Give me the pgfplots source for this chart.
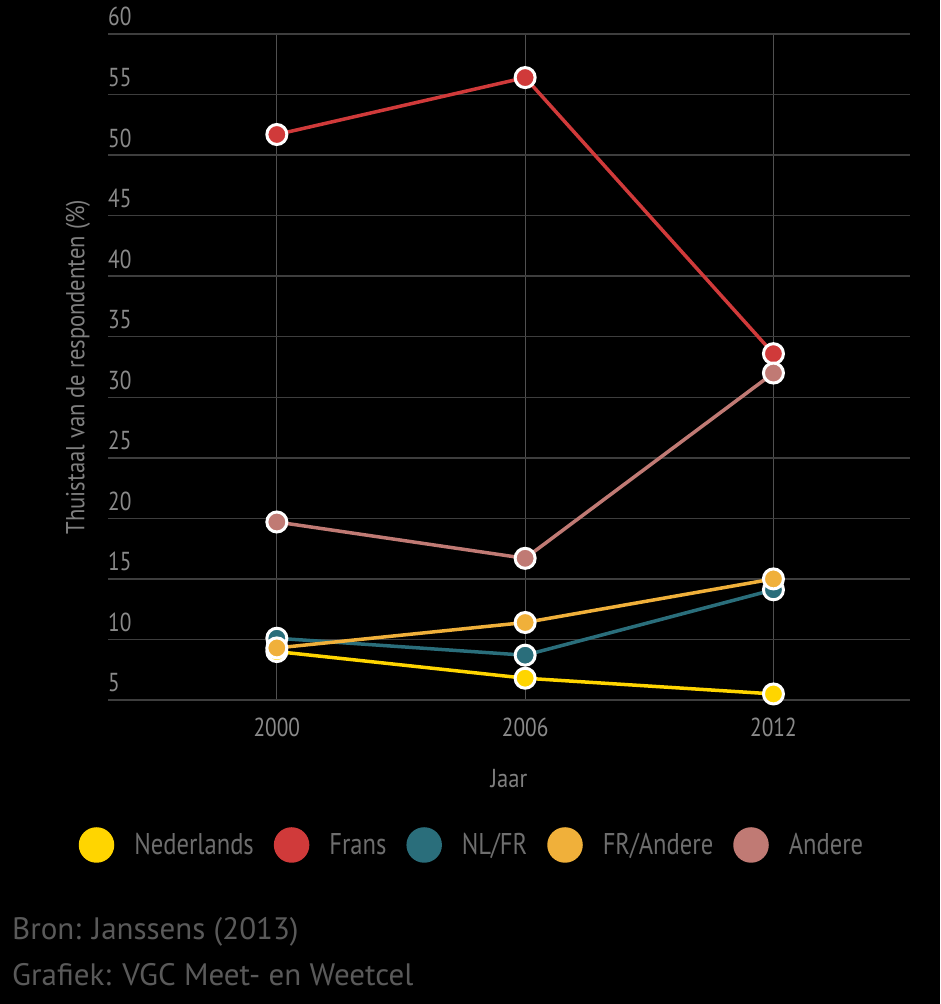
\documentclass[border=0pt]{standalone}
\usepackage{pgfplots}
\pgfplotsset{compat=1.18}
\usepackage{fontspec}
\setmainfont{PT Sans}[FakeStretch=0.82]
\newfontfamily\labfont{PT Sans}[FakeStretch=0.87]
\newfontfamily\capfont{PT Sans}
\definecolor{cNL}{HTML}{FFD500}
\definecolor{cFR}{HTML}{D03A3A}
\definecolor{cNLFR}{HTML}{2A6E7B}
\definecolor{cFRA}{HTML}{F0B03A}
\definecolor{cAN}{HTML}{C07A74}
\definecolor{gridh}{HTML}{3E3E3E}
\definecolor{gridv}{HTML}{505050}
\definecolor{tickc}{HTML}{8A8A8A}
\definecolor{labc}{HTML}{808080}
\definecolor{legc}{HTML}{6E6E6E}
\definecolor{capc}{HTML}{5A5A5A}
\begin{document}
\begin{tikzpicture}[x=1pt,y=1pt]
\fill[black] (0,0) rectangle (940,1004);
\path[use as bounding box] (0,0) rectangle (940,1004);
\begin{axis}[
  at={(108pt,304pt)}, anchor=south west,
  scale only axis, width=802pt, height=666pt,
  xmin=-0.68, xmax=2.55, ymin=5, ymax=60,
  xtick={0,1,2}, xticklabels={2000,2006,2012},
  ytick={5,10,...,60},
  /pgf/number format/assume math mode=true,
  axis line style={draw=none},
  major tick length=0pt,
  ymajorgrids, xmajorgrids,
  y grid style={color=gridh, line width=1.5pt},
  x grid style={color=gridv, line width=1pt},
  ticklabel style={font=\fontsize{26}{28}\selectfont, text=tickc},
  yticklabel style={anchor=base west, inner sep=0pt, yshift=8pt},
  xticklabel style={anchor=base, inner sep=0pt, yshift=-37pt},
  xlabel={Jaar}, ylabel={Thuistaal van de respondenten (\%)},
  label style={font=\labfont\fontsize{26}{28}\selectfont, text=labc},
  xlabel style={at={(axis description cs:0.5,-0.132)}, anchor=base, inner sep=0pt},
  ylabel style={at={(axis description cs:-0.0374,0.5)}, anchor=center},
  legend style={at={(axis description cs:0.4526,-0.2177)}, anchor=center,
    draw=none, fill=none, text=legc, font=\fontsize{30}{32}\selectfont,
    legend columns=5, nodes={inner sep=0pt},
    /tikz/every odd column/.append style={column sep=20pt},
    /tikz/every even column/.append style={column sep=20pt}},
  every axis plot/.append style={line width=3.5pt, mark=*, mark size=10pt},
]
\addplot[forget plot, color=cNL, mark options={draw=white, line width=3pt, fill=cNL}] coordinates {(0,9.0) (1,6.8) (2,5.5)};
\addplot[forget plot, color=cFR, mark options={draw=white, line width=3pt, fill=cFR}] coordinates {(0,51.7) (1,56.4) (2,33.6)};
\addplot[forget plot, color=cNLFR, mark options={draw=white, line width=3pt, fill=cNLFR}] coordinates {(0,10.1) (1,8.7) (2,14.1)};
\addplot[forget plot, color=cFRA, mark options={draw=white, line width=3pt, fill=cFRA}] coordinates {(0,9.3) (1,11.4) (2,15.0)};
\addplot[forget plot, color=cAN, mark options={draw=white, line width=3pt, fill=cAN}] coordinates {(0,19.7) (1,16.7) (2,32.0)};
\addlegendimage{legend image code/.code={\fill[cNL] (16pt,0pt) circle (16pt);}}
\addlegendentry{Nederlands}
\addlegendimage{legend image code/.code={\fill[cFR] (16pt,0pt) circle (16pt);}}
\addlegendentry{Frans}
\addlegendimage{legend image code/.code={\fill[cNLFR] (16pt,0pt) circle (16pt);}}
\addlegendentry{NL/FR}
\addlegendimage{legend image code/.code={\fill[cFRA] (16pt,0pt) circle (16pt);}}
\addlegendentry{FR/Andere}
\addlegendimage{legend image code/.code={\fill[cAN] (16pt,0pt) circle (16pt);}}
\addlegendentry{Andere}
\end{axis}
\node[anchor=base west, inner sep=0pt, text=capc, font=\capfont\fontsize{31}{33}\selectfont] at (12,64) {Bron: Janssens (2013)};
\node[anchor=base west, inner sep=0pt, text=capc, font=\capfont\fontsize{31}{33}\selectfont] at (12,19) {Grafiek: VGC Meet- en Weetcel};
\end{tikzpicture}
\end{document}
